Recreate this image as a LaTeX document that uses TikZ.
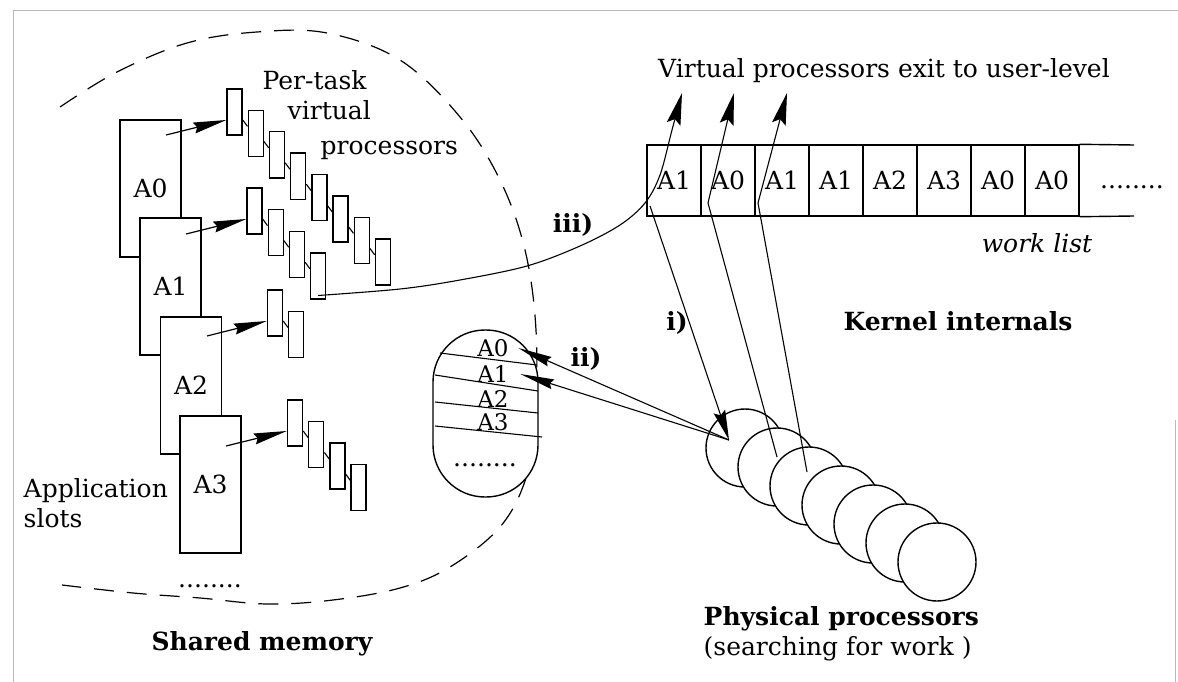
\documentclass[tikz,border=0pt]{standalone}
\usepackage{fontspec}
\setmainfont{DejaVuSerif}[Extension=.ttf,UprightFont=*,BoldFont=*-Bold,ItalicFont=*-Italic]
\usetikzlibrary{arrows.meta,calc}
\begin{document}
\begin{tikzpicture}[x=1pt,y=-1pt,line width=1.4pt,
  every node/.style={inner sep=0pt},
  lbl/.style={font=\fontsize{25}{30}\selectfont},
  small/.style={font=\fontsize{23}{26}\selectfont},
  hd/.style={font=\fontsize{25}{30}\selectfont\bfseries},
  slot/.style={draw,fill=white,minimum width=61pt,minimum height=137pt,lbl},
  vp/.style={draw,fill=white,minimum width=15pt,minimum height=46pt},
  cpu/.style={draw,fill=white,circle,minimum size=78pt},
  cell/.style={draw,minimum width=54pt,minimum height=71pt,lbl},
  link/.style={line width=1.1pt},
  slotarrow/.style={line width=1.2pt,-{Stealth[length=33pt,width=11pt,inset=3pt]}},
  exitarrow/.style={line width=1.1pt,-{Stealth[length=32pt,width=14pt,inset=5pt]}},
  fetcharrow/.style={line width=1.1pt,-{Stealth[length=30pt,width=12pt,inset=4pt]}},
  queuearrow/.style={line width=1.1pt,-{Stealth[length=34pt,width=10pt,inset=3pt]}},
  frame/.style={gray!55,line width=0.8pt}
]
\useasboundingbox (0,0) rectangle (1178,682);

% page frame
\draw[frame] (1178,10) -- (13,10) -- (13,682);
\draw[frame] (1175,420) -- (1175,682);

% shared memory boundary
\draw[dash pattern=on 20pt off 13pt,line width=1.2pt]
  plot[smooth,tension=0.6] coordinates {(60,107) (117,72) (187,43) (257,32)
  (327,33) (400,60) (460,117) (500,180) (525,250) (536,330) (535,420)
  (526,478) (500,527) (450,567) (400,588) (333,600) (267,604) (200,598)
  (133,593) (62,585)};

% application slots
\node[slot] (A0) at (150.5,188.5) {A0};
\node[slot] (A1) at (170.5,286.5) {A1};
\node[slot] (A2) at (191,385.5) {A2};
\node[slot] (A3) at (210.5,484.5) {A3};
\node[lbl,anchor=base] (slotdots) at (210,587) {........};

% per-task virtual processor chains
\foreach \k in {0,...,7}
  \node[vp] (v0-\k) at ({234.5+21.2*\k},{112+21.4*\k}) {};
\foreach \k in {0,...,3}
  \node[vp] (v1-\k) at ({254.5+21.2*\k},{211+21.6*\k}) {};
\foreach \k in {0,...,1}
  \node[vp] (v2-\k) at ({275+21.2*\k},{313+21.5*\k}) {};
\foreach \k in {0,...,3}
  \node[vp] (v3-\k) at ({295+21.2*\k},{423+21.5*\k}) {};

\foreach \k [evaluate=\k as \n using int(\k+1)] in {0,...,6}
  \draw[link] ([yshift=-8pt]v0-\k.east) -- ([yshift=7pt]v0-\n.west);
\foreach \k [evaluate=\k as \n using int(\k+1)] in {0,...,2}
  \draw[link] ([yshift=-8pt]v1-\k.east) -- ([yshift=7pt]v1-\n.west);
\draw[link] ([yshift=-8pt]v2-0.east) -- ([yshift=7pt]v2-1.west);
\foreach \k [evaluate=\k as \n using int(\k+1)] in {0,...,2}
  \draw[link] ([yshift=-8pt]v3-\k.east) -- ([yshift=7pt]v3-\n.west);

\coordinate (s0) at (166,135);
\coordinate (s1) at (186,234);
\coordinate (s2) at (207,336);
\coordinate (s3) at (226,446);
\draw[slotarrow] (s0) -- ([yshift=-8pt]v0-0.west);
\draw[slotarrow] (s1) -- ([yshift=-8pt]v1-0.west);
\draw[slotarrow] (s2) -- ([yshift=-8pt]v2-0.west);
\draw[slotarrow] (s3) -- ([yshift=-8pt]v3-0.west);

% labels on the left
\node[lbl,anchor=base west] (pt1) at (262,90) {Per-task};
\node[lbl,anchor=base west] (pt2) at (287,120) {virtual};
\node[lbl,anchor=base west] (pt3) at (320,155) {processors};
\node[lbl,anchor=base west] (as1) at (23,497) {Application};
\node[lbl,anchor=base west] (as2) at (23,527) {slots};
\node[hd,anchor=base] (shm) at (262,650) {Shared memory};

% run queue in shared memory
\node[draw,fill=white,minimum width=105pt,minimum height=167pt,rounded corners=52pt] (rq) at (485.5,413.5) {};
\draw[link] (440,353) -- (537,365);
\draw[link] (435,375) -- (538,391);
\draw[link] (435,402) -- (538,413);
\draw[link] (435,426) -- (542,437);
\node[small] (rq0) at (493,348) {A0};
\node[small] (rq1) at (493,374) {A1};
\node[small] (rq2) at (493,399) {A2};
\node[small] (rq3) at (493,422) {A3};
\node[lbl,anchor=base] (rqdots) at (485,466) {........};

% kernel work list
\foreach \i/\t in {1/A1,2/A0,3/A1,4/A1,5/A2,6/A3,7/A0,8/A0}
  \node[cell] (w\i) at ({647+27+54*(\i-1)},180.5) {\t};
\draw (w8.north east) -- (1134,145);
\draw (w8.south east) -- (1134,216);
\node[lbl,anchor=base] (wdots) at (1132,188) {........};
\node[lbl,anchor=base] (wl) at (1037,252) {\itshape work list};
\node[hd,anchor=base] (ki) at (958,330) {Kernel internals};
\node[lbl,anchor=base] (exit) at (884,78) {Virtual processors exit to user-level};

% physical processors
\foreach \i in {1,...,7}
  \node[cpu] (p\i) at ({745+32*(\i-1)},{448+19*(\i-1)}) {};
\node[hd,anchor=base west] (pp) at (703,625) {Physical processors};
\node[lbl,anchor=base west] (sw) at (703,655) {(searching for work )};

% connectors
\coordinate (vs) at ([yshift=4pt]v1-3.south);
\coordinate (k1) at (650,206);
\coordinate (k2) at (708,203);
\coordinate (k3) at (758,203);
\coordinate (t1) at (682,93);
\coordinate (t2) at (734,93);
\coordinate (t3) at (787,93);
\coordinate (e2) at (777,457);
\coordinate (e3) at (807,472);
\coordinate (h1) at (729,440);

\draw[exitarrow] plot[smooth,tension=0.55] coordinates {(vs) (400,289) (460,280)
  (527,266) (580,246) (620,225) (645,203) (660,175) (672,130) (t1)};
\draw[exitarrow] (e2) -- (k2) -- (t2);
\draw[exitarrow] (e3) -- (k3) -- (t3);
\draw[fetcharrow] (k1) -- (h1);
\draw[queuearrow] (h1) -- ([xshift=9pt]rq0.east);
\draw[queuearrow] (h1) -- ([xshift=11pt]rq1.east);

\node[hd,anchor=base] (l3) at (573,232) {iii)};
\node[hd,anchor=base] (l1) at (677,330) {i)};
\node[hd,anchor=base] (l2) at (586,366) {ii)};
\end{tikzpicture}
\end{document}
